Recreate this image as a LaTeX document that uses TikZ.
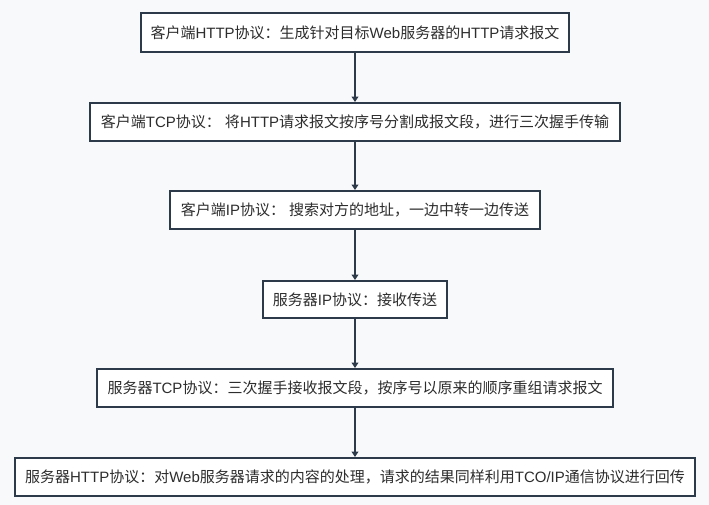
\documentclass[tikz,border=0pt]{standalone}
\usepackage{fontspec}
\setmainfont{Liberation Sans}
\newfontfamily\cjk{Noto Sans CJK SC}
\usetikzlibrary{arrows.meta}
\definecolor{bgc}{RGB}{248,249,250}
\definecolor{edgec}{RGB}{44,58,74}
\definecolor{txtc}{RGB}{45,45,45}
\tikzset{
  stepbox/.style={draw=edgec, fill=white, line width=1.5pt, inner sep=0pt,
    text=txtc, font=\fontsize{11.25pt}{13pt}\selectfont, align=center},
  conn/.style={draw=edgec, line width=1.5pt, -{Triangle[length=4pt,width=5pt]}}
}
\newcommand{\C}[1]{{\cjk #1}}
\begin{document}
\begin{tikzpicture}[x=0.75pt,y=-0.75pt]
\fill[bgc] (0,0) rectangle (709,505);
\useasboundingbox (0,0) rectangle (709,505);
\node[stepbox, minimum width={428*0.75pt}, minimum height={39*0.75pt}] (n1) at (355,32.5)
  {\C{客户端}HTTP\C{协议：生成针对目标}Web\C{服务器的}HTTP\C{请求报文}};
\node[stepbox, minimum width={530*0.75pt}, minimum height={38*0.75pt}] (n2) at (355,122)
  {\C{客户端}TCP\C{协议：} \C{将}HTTP\C{请求报文按序号分割成报文段，进行三次握手传输}};
\node[stepbox, minimum width={370*0.75pt}, minimum height={38*0.75pt}] (n3) at (355,210)
  {\C{客户端}IP\C{协议：} \C{搜索对方的地址，一边中转一边传送}};
\node[stepbox, minimum width={184*0.75pt}, minimum height={37*0.75pt}] (n4) at (355,299.5)
  {\C{服务器}IP\C{协议：接收传送}};
\node[stepbox, minimum width={516*0.75pt}, minimum height={38*0.75pt}] (n5) at (355,388)
  {\C{服务器}TCP\C{协议：三次握手接收报文段，按序号以原来的顺序重组请求报文}};
\node[stepbox, minimum width={680*0.75pt}, minimum height={38*0.75pt}] (n6) at (355,477)
  {\C{服务器}HTTP\C{协议：对}Web\C{服务器请求的内容的处理，请求的结果同样利用}TCO/IP\C{通信协议进行回传}};
\draw[conn] (n1) -- (n2);
\draw[conn] (n2) -- (n3);
\draw[conn] (n3) -- (n4);
\draw[conn] (n4) -- (n5);
\draw[conn] (n5) -- (n6);
\end{tikzpicture}
\end{document}
